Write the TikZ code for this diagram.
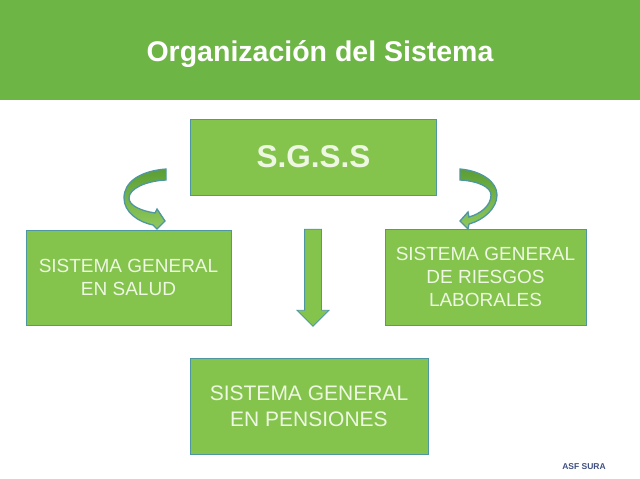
\documentclass[tikz,border=0pt]{standalone}
\usepackage{fontspec}
\setmainfont{Liberation Sans}
\usetikzlibrary{positioning,shapes.arrows}
\definecolor{verdeband}{HTML}{6DB544}
\definecolor{verdebox}{HTML}{84C44C}
\definecolor{verdeosc}{HTML}{5C9E34}
\definecolor{bordeazul}{HTML}{4F97A0}
\definecolor{textobox}{HTML}{EDF7E2}
\definecolor{firma}{HTML}{3F4F80}

\begin{document}
\begin{tikzpicture}[x=1pt, y=-1pt, semithick]
        \tikzstyle{banda}=[fill=verdeband,text=white,minimum width=640pt,minimum height=100pt,inner sep=0pt,text height=24pt,text depth=1.5pt,font=\bfseries\fontsize{28.5}{32}\selectfont]
        \tikzstyle{caja}=[fill=verdebox,draw=bordeazul,line width=1pt,text=textobox,align=center,inner sep=0pt,font=\fontsize{19}{23}\selectfont]
        \tikzstyle{curva}=[draw=bordeazul,line width=1.3pt,top color=verdeosc,bottom color=verdebox!90!white]
        \tikzstyle{recta}=[single arrow,draw=bordeazul,line width=.8pt,fill=verdebox,inner sep=0pt,minimum height=97pt,single arrow head extend=7.5pt,single arrow tip angle=90]
        \useasboundingbox (0,0) rectangle (640,479);
        \fill[white] (0,0) rectangle (640,479);

        \node[banda]    (titulo)    at (320,50)     {Organización del Sistema};
        \node[caja,minimum width=246pt,minimum height=76pt,font=\bfseries\fontsize{31.5}{34}\selectfont] (sgss) [below of=titulo,node distance=107pt,xshift=-6.5pt] {S.G.S.S};
        \node[caja,minimum width=205pt,minimum height=95pt] (salud) [below of=sgss,node distance=120.5pt,xshift=-185pt] {SISTEMA GENERAL\\EN SALUD};
        \node[caja,minimum width=201pt,minimum height=96pt] (riesgos) [below of=sgss,node distance=120pt,xshift=172pt] {SISTEMA GENERAL\\DE RIESGOS\\LABORALES};
        \node[caja,minimum width=238pt,minimum height=96pt,font=\fontsize{21}{26}\selectfont] (pensiones) [below of=sgss,node distance=249pt,xshift=-4.5pt] {SISTEMA GENERAL\\EN PENSIONES};
        \node[recta,rotate=-90] (flecha) at (313,273.5) {\rule{0pt}{16pt}};
        \node[text=firma,font=\bfseries\fontsize{8.5}{10}\selectfont,inner sep=0pt] (firma) at (584,467) {ASF SURA};

        % flechas curvas
        \path[curva] (166,169) .. controls (140,171) and (124,182) .. (124,198)
            .. controls (124,212) and (138,222) .. (153,225) -- (157,229) -- (165,221) -- (157,209) -- (155,213)
            .. controls (142,211) and (129,206) .. (129,198)
            .. controls (129,189) and (145,181) .. (166,180) -- cycle;
        \path[curva] (460,169) .. controls (482,171) and (497,182) .. (497,195)
            .. controls (497,208) and (484,220) .. (469,224) -- (468,229) -- (460,221) -- (468,212) -- (469,217)
            .. controls (480,214) and (491,206) .. (491,195)
            .. controls (491,187) and (478,181) .. (460,180) -- cycle;
    \end{tikzpicture}
\end{document}
